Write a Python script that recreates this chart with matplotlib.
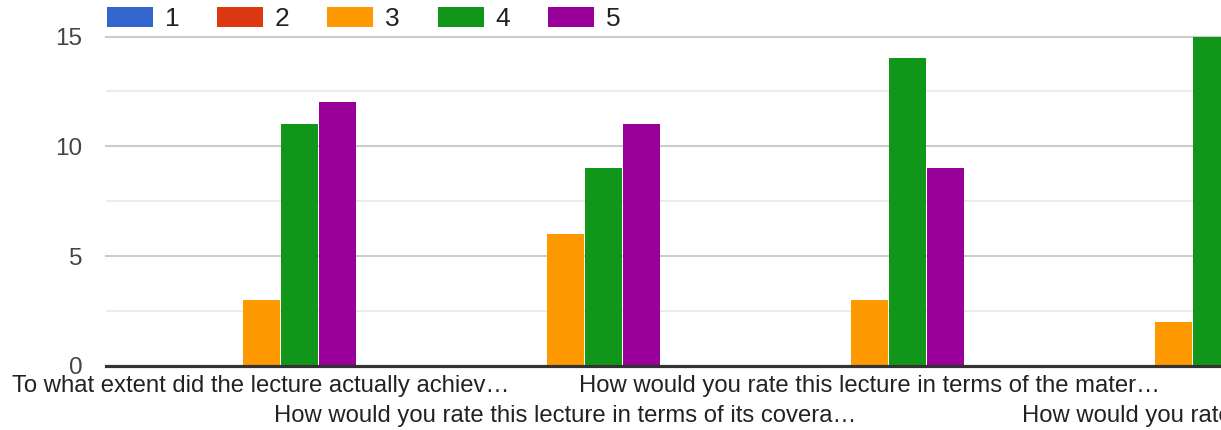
import matplotlib
matplotlib.use("Agg")
import matplotlib.pyplot as plt
from matplotlib.patches import Patch
import numpy as np

plt.rcParams['font.family'] = ['Liberation Sans', 'DejaVu Sans']

questions = [
    "To what extent did the lecture actually achiev\u2026",
    "How would you rate this lecture in terms of its covera\u2026",
    "How would you rate this lecture in terms of the mater\u2026",
    "How would you rate this le\u2026",
]
ratings = ["1", "2", "3", "4", "5"]
counts_1 = [0, 0, 0, 0]
counts_2 = [0, 0, 0, 0]
counts_3 = [3, 6, 3, 2]
counts_4 = [11, 9, 14, 15]
counts_5 = [12, 11, 9, 9]
series = [counts_1, counts_2, counts_3, counts_4, counts_5]
colors = ["#3366cc", "#dc3912", "#ff9900", "#109618", "#990099"]
yticks = [0, 5, 10, 15]

W, H = 1221, 430
fig = plt.figure(figsize=(W / 100, H / 100), dpi=100)
ax = fig.add_axes([106 / W, (H - 366) / H, (W - 106) / W, (366 - 36.5) / H])

x = np.arange(len(questions))
slot = 38 / 304
bw = 37 / 304
for k, (vals, c) in enumerate(zip(series, colors)):
    ax.bar(x + (k - 2) * slot, vals, width=bw, color=c, zorder=3, linewidth=0)

ax.set_xlim(-155 / 304, (W - 261) / 304)
ax.set_ylim(0, 15)

for v in [2.5, 7.5, 12.5]:
    ax.axhline(v, color="#ebebeb", lw=1.5, zorder=1)
for v in [5, 10, 15]:
    ax.axhline(v, color="#cccccc", lw=1.5, zorder=1, clip_on=False)
ax.axhline(0, color="#333333", lw=2.3, zorder=4, clip_on=False)

for s in ax.spines.values():
    s.set_visible(False)

ax.set_yticks(yticks)
ax.set_yticklabels([str(t) for t in yticks], fontsize=17.5, color="#444444")
ax.tick_params(axis="y", length=0, pad=17)

ax.set_xticks(x)
ax.set_xticklabels(questions, fontsize=17.2, color="#222222")
ax.tick_params(axis="x", length=0)
for i, t in enumerate(ax.xaxis.get_major_ticks()):
    t.set_pad(6.5 if i % 2 == 0 else 28)

handles = [Patch(facecolor=c, edgecolor="none") for c in colors]
fs = 19
fpx = fs * 100 / 72
fig.legend(handles, ratings, loc="upper left", bbox_to_anchor=(107 / W, 1 - 6.5 / H),
           ncol=5, frameon=False, fontsize=fs, borderaxespad=0, borderpad=0,
           handlelength=46 / fpx, handleheight=22 / fpx, handletextpad=12 / fpx,
           columnspacing=37.5 / fpx, labelcolor="#222222")

fig.savefig("out.png", dpi=100)
